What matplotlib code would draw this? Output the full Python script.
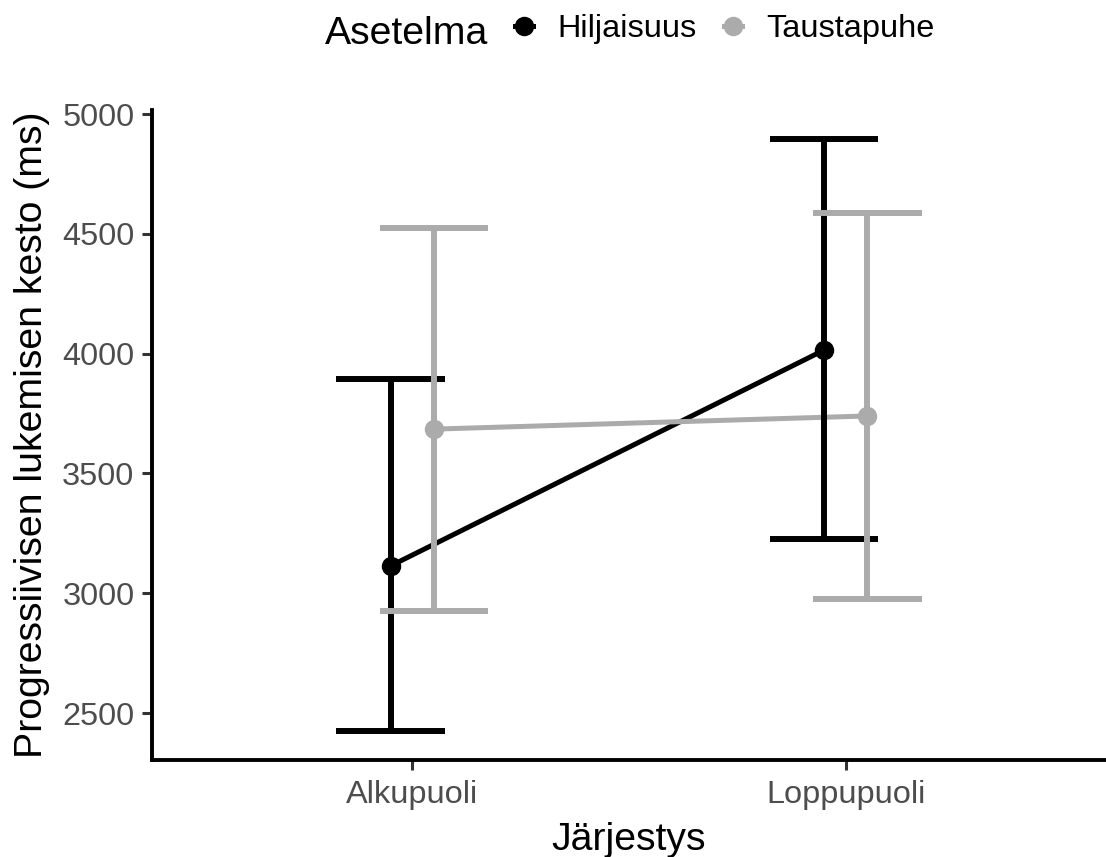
import matplotlib.pyplot as plt
from matplotlib.lines import Line2D
import numpy as np

plt.rcParams['font.family'] = ['Liberation Sans', 'DejaVu Sans']

# data
categories = ['Alkupuoli', 'Loppupuoli']
groups = ['Hiljaisuus', 'Taustapuhe']
hiljaisuus_mean = [3114, 4015]
hiljaisuus_low = [2425, 3226]
hiljaisuus_high = [3894, 4896]
taustapuhe_mean = [3685, 3740]
taustapuhe_low = [2926, 2975]
taustapuhe_high = [4524, 4587]
y_ticks = [2500, 3000, 3500, 4000, 4500, 5000]

colors = ['black', '#ABABAB']
dodge = [-0.05, 0.05]
cap = 0.125

fig = plt.figure(figsize=(11.06, 8.57), dpi=100)
ax = fig.add_axes([152 / 1106, 97 / 857, 954 / 1106, 650 / 857])

x = np.arange(1, len(categories) + 1)
series = [(hiljaisuus_mean, hiljaisuus_low, hiljaisuus_high),
          (taustapuhe_mean, taustapuhe_low, taustapuhe_high)]

for i, (m, lo, hi) in enumerate(series):
    xs = x + dodge[i]
    ax.plot(xs, m, color=colors[i], lw=3.6, zorder=2)
    ax.plot(xs, m, 'o', color=colors[i], ms=13, zorder=3)

for i, (m, lo, hi) in enumerate(series):
    xs = x + dodge[i]
    ax.vlines(xs, lo, hi, color=colors[i], lw=4.3, zorder=4)
    ax.hlines(lo, xs - cap, xs + cap, color=colors[i], lw=4.3, zorder=4)
    ax.hlines(hi, xs - cap, xs + cap, color=colors[i], lw=4.3, zorder=4)

ax.set_xlim(0.4, 2.6)
ax.set_ylim(2304, 5017)
ax.set_xticks(x, categories)
ax.set_yticks(y_ticks)

for s in ['top', 'right']:
    ax.spines[s].set_visible(False)
for s in ['left', 'bottom']:
    ax.spines[s].set_linewidth(2.8)
    ax.spines[s].set_color('black')

ax.tick_params(length=7.2, width=2.2, color='#333333',
               labelsize=23.4, labelcolor='#4D4D4D')
ax.tick_params(axis='x', pad=7)
ax.tick_params(axis='y', pad=5.5)

ax.set_ylabel('Progressiivisen lukemisen kesto (ms)', fontsize=28.3)
ax.yaxis.set_label_coords(-0.107, 0.5)
ax.set_xlabel('Järjestys', fontsize=28.3)
ax.xaxis.set_label_coords(0.5, -0.095)

# legend on top
fig.text(325 / 1106, 1 - 44 / 857, 'Asetelma', fontsize=28.3,
         va='baseline', ha='left')
handles = [Line2D([], [], color=colors[i], marker='o', ms=13, lw=3.6)
           for i in range(len(groups))]
fig.legend(handles, groups, ncol=2, frameon=False, fontsize=23.4,
           loc='center left', bbox_to_anchor=(515 / 1106, 1 - 29 / 857),
           borderpad=0, borderaxespad=0, handlelength=0.55,
           handletextpad=0.75, columnspacing=0.85)

fig.savefig('out.png', dpi=100, facecolor='white')
